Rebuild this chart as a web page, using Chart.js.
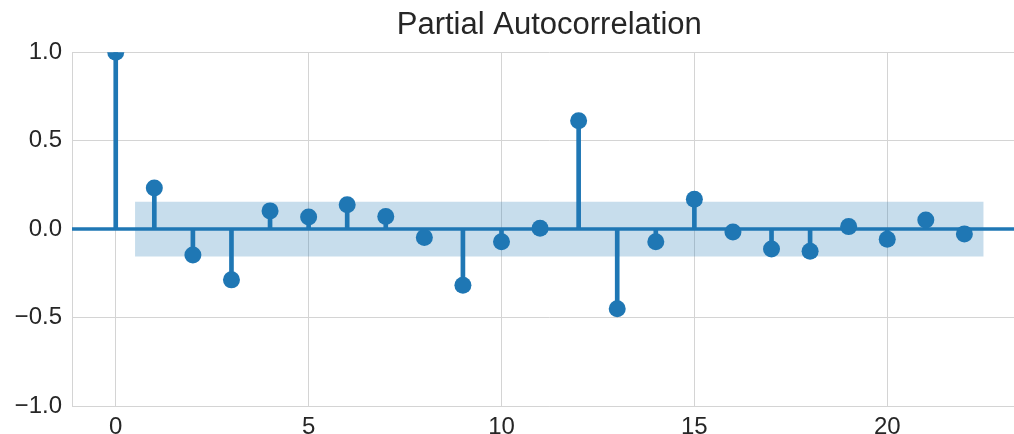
<!DOCTYPE html>
<html><head><meta charset="utf-8">
<script src="https://cdn.jsdelivr.net/npm/chart.js@4/dist/chart.umd.min.js"></script>
<style>
html,body{margin:0;padding:0;overflow:hidden;background:#fff;width:1014px;height:434px}
#wrap{width:1035px;height:434px}
</style></head><body>
<div id="wrap"><canvas id="c" width="1035" height="434"></canvas></div>
<script>
const chartTitle = 'Partial Autocorrelation';
const lags = [0,1,2,3,4,5,6,7,8,9,10,11,12,13,14,15,16,17,18,19,20,21,22];
const pacf = [1.0, 0.232, -0.147, -0.287, 0.103, 0.069, 0.138, 0.071, -0.048, -0.317, -0.072, 0.005, 0.613, -0.450, -0.072, 0.169, -0.016, -0.113, -0.125, 0.014, -0.057, 0.052, -0.027];
const confLimit = 0.155;
const bandLags = [0.5, 22.5];
const xTicks = [0,5,10,15,20];
const yTicks = [-1,-0.5,0,0.5,1];
const xRange = [-1.134, 23.61];

const BLUE = '#1f77b4';
const GRID = '#d4d4d4';
const TEXT = '#262626';
Chart.defaults.font.family = "'Liberation Sans', Arial, sans-serif";

const points = lags.map((l,i)=>({x:l, y:pacf[i]}));

const zeroLine = {
  id:'zeroLine',
  afterDatasetDraw(chart, args){
    if (chart.data.datasets[args.index].id !== 'lower') return;
    const {ctx, chartArea, scales} = chart;
    const y = scales.y.getPixelForValue(0);
    ctx.save();
    ctx.strokeStyle = BLUE; ctx.lineWidth = 3.5;
    ctx.beginPath(); ctx.moveTo(chartArea.left, y); ctx.lineTo(chartArea.right, y); ctx.stroke();
    ctx.restore();
  }
};

new Chart(document.getElementById('c'), {
  type:'scatter',
  data:{datasets:[
    {id:'upper', type:'line', data:bandLags.map(x=>({x, y:confLimit})), borderWidth:0, pointRadius:0, fill:'+1', backgroundColor:'rgba(31,119,180,0.25)', order:5},
    {id:'lower', type:'line', data:bandLags.map(x=>({x, y:-confLimit})), borderWidth:0, pointRadius:0, fill:false, order:4},
    {id:'stems', type:'bar', data:points, backgroundColor:BLUE, barThickness:4, grouped:false, order:2, clip:0},
    {id:'markers', type:'scatter', data:points, backgroundColor:BLUE, borderWidth:0, pointRadius:8.5, order:1, clip:0}
  ]},
  options:{
    responsive:false, animation:false,
    layout:{padding:0},
    plugins:{
      legend:{display:false}, tooltip:{enabled:false},
      title:{display:true, text:chartTitle, fullSize:false, color:TEXT, font:{size:31, weight:'normal'}, padding:{top:7,bottom:8}}
    },
    scales:{
      x:{type:'linear', min:xRange[0], max:xRange[1], offset:false,
        afterBuildTicks(s){ s.ticks = xTicks.map(v=>({value:v})); },
        afterFit(s){ s.height = 28; s.paddingLeft = 0; s.paddingRight = 0; },
        grid:{color:GRID, lineWidth:1, drawTicks:false, offset:false},
        border:{color:GRID, width:1},
        ticks:{color:TEXT, font:{size:24}, padding:7, maxRotation:0, callback:v=>String(v)}
      },
      y:{min:-1, max:1,
        afterBuildTicks(s){ s.ticks = yTicks.map(v=>({value:v})); },
        afterFit(s){ s.width = 72; s.paddingTop = 0; s.paddingBottom = 0; },
        grid:{color:GRID, lineWidth:1, drawTicks:false},
        border:{color:GRID, width:1},
        ticks:{color:TEXT, font:{size:24}, padding:10, callback:v=>(v<0?'\u2212':'')+Math.abs(v).toFixed(1)}
      }
    }
  },
  plugins:[zeroLine]
});
</script>
</body></html>
